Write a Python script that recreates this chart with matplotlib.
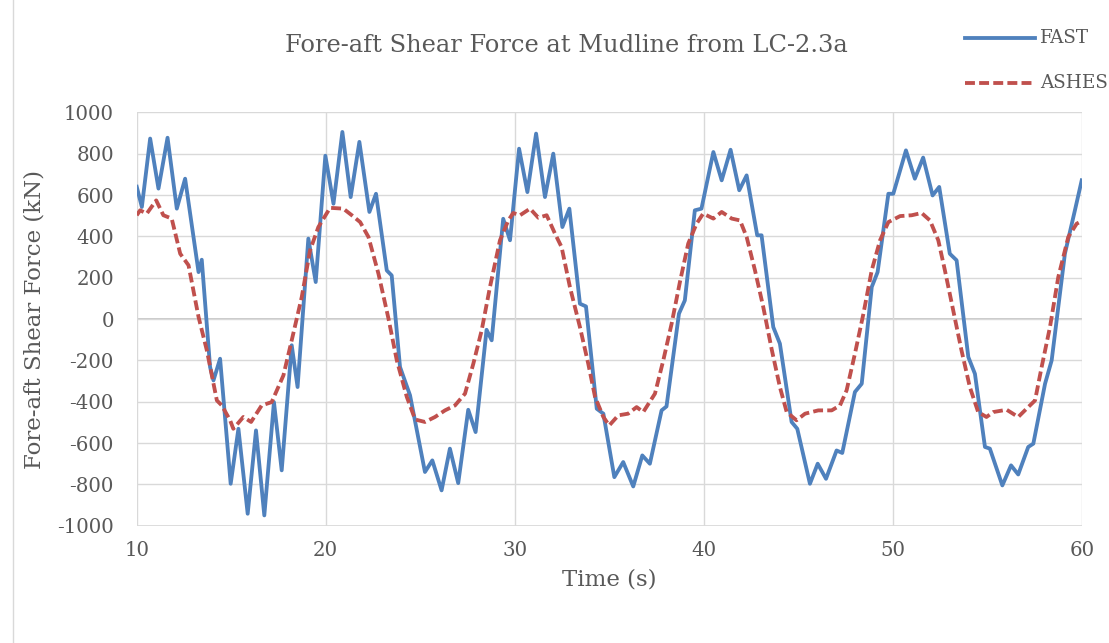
import matplotlib.pyplot as plt
from matplotlib.lines import Line2D

plt.rcParams["axes.unicode_minus"] = False

# FAST time history
fast_t = [10.0, 10.27, 10.71, 11.15, 11.63, 12.12, 12.56, 13.27, 13.44, 13.88, 14.06, 14.41,
          14.97, 15.38, 15.87, 16.31, 16.75, 17.26, 17.67, 18.20, 18.51, 19.08, 19.47, 19.98,
          20.41, 20.88, 21.32, 21.78, 22.31, 22.66, 23.23, 23.49, 23.93, 24.46, 25.25, 25.64,
          26.13, 26.57, 27.01, 27.54, 27.93, 28.51, 28.78, 29.39, 29.75, 30.23, 30.67, 31.13,
          31.60, 32.04, 32.52, 32.89, 33.45, 33.77, 34.34, 34.69, 35.27, 35.74, 36.27, 36.75,
          37.15, 37.77, 38.03, 38.69, 39.00, 39.53, 39.88, 40.51, 40.95, 41.42, 41.88, 42.27,
          42.83, 43.06, 43.68, 44.03, 44.65, 44.95, 45.62, 46.03, 46.47, 47.03, 47.33, 48.00,
          48.36, 48.89, 49.20, 49.77, 50.03, 50.70, 51.17, 51.61, 52.11, 52.46, 53.02, 53.38,
          54.00, 54.35, 54.88, 55.14, 55.80, 56.26, 56.64, 57.17, 57.44, 58.06, 58.41, 59.11,
          59.64, 60.0]
fast_v = [640, 542, 873, 631, 877, 534, 679, 227, 287, -232, -297, -192,
          -797, -531, -942, -539, -950, -402, -732, -127, -329, 389, 179, 790,
          558, 905, 590, 857, 518, 606, 235, 211, -232, -369, -740, -684,
          -829, -627, -794, -439, -547, -52, -103, 485, 381, 824, 614, 897,
          590, 800, 445, 534, 74, 61, -434, -458, -765, -692, -810, -660,
          -700, -442, -423, 26, 90, 526, 534, 808, 671, 819, 623, 695,
          405, 405, -39, -119, -498, -531, -797, -700, -773, -636, -648, -353,
          -313, 155, 227, 606, 606, 816, 679, 781, 598, 639, 316, 284,
          -184, -265, -619, -627, -805, -708, -752, -619, -603, -313, -200, 316,
          526, 671]

# ASHES time history
ashes_t = [10.0, 10.18, 10.53, 11.03, 11.41, 11.85, 12.30, 12.74, 13.27, 13.71, 14.24, 14.50,
           14.94, 15.11, 15.64, 16.05, 16.61, 17.14, 17.76, 18.20, 18.73, 19.17, 19.61, 20.23,
           20.93, 21.38, 21.82, 22.26, 22.79, 23.32, 23.76, 24.29, 24.73, 25.25, 25.78, 26.31,
           26.84, 27.37, 27.81, 28.25, 28.69, 29.22, 29.66, 29.92, 30.28, 30.81, 31.25, 31.69,
           32.13, 32.48, 32.92, 33.45, 33.89, 34.25, 34.69, 35.00, 35.48, 36.00, 36.45, 36.80,
           37.42, 37.86, 38.30, 38.74, 39.18, 39.62, 39.97, 40.51, 40.95, 41.48, 41.92, 42.27,
           42.71, 43.15, 43.59, 44.03, 44.39, 44.91, 45.36, 46.06, 46.77, 47.21, 47.56, 48.00,
           48.45, 48.89, 49.33, 49.77, 50.39, 51.00, 51.53, 51.97, 52.41, 52.76, 53.20, 53.64,
           54.08, 54.52, 54.96, 55.32, 56.03, 56.64, 57.08, 57.53, 57.88, 58.32, 58.76, 59.29,
           59.73, 60.0]
ashes_v = [502, 526, 510, 574, 502, 486, 316, 260, 10, -152, -394, -418,
           -490, -531, -474, -498, -418, -402, -273, -103, 106, 332, 445, 538,
           534, 502, 469, 397, 219, 2, -200, -377, -486, -498, -474, -442,
           -418, -361, -216, -55, 155, 381, 477, 513, 502, 534, 490, 502,
           413, 348, 155, -39, -216, -377, -474, -515, -466, -458, -426, -450,
           -361, -200, -23, 179, 365, 461, 510, 486, 518, 486, 477, 397,
           236, 58, -144, -329, -450, -490, -458, -442, -442, -418, -345, -168,
           26, 236, 381, 469, 498, 502, 513, 477, 381, 236, 42, -152,
           -329, -450, -474, -450, -439, -474, -434, -394, -232, -39, 203, 397,
           461, 474]

x_ticks = [10, 20, 30, 40, 50, 60]
y_ticks = list(range(-1000, 1001, 200))

text_col = "#595959"
font = "DejaVu Serif"
blue = "#4F81BD"
red = "#C0504D"
lw = 2.75

fig = plt.figure(figsize=(11.09, 6.43), dpi=100)
ax = fig.add_axes([0.1233, 0.1824, 0.8521, 0.6429])

ax.plot(fast_t, fast_v, color=blue, lw=lw, solid_joinstyle="round", zorder=3)
ax.plot(ashes_t, ashes_v, color=red, lw=lw, dashes=(2.6, 1.1),
        dash_capstyle="butt", zorder=4)

ax.set_xlim(10, 60)
ax.set_ylim(-1000, 1000)
ax.set_xticks(x_ticks)
ax.set_yticks(y_ticks)
ax.grid(True, color="#D9D9D9", lw=1.0)
ax.axhline(0, color="#BFBFBF", lw=1.2, zorder=1)
for s in ax.spines.values():
    s.set_visible(False)
ax.axvline(10, color="#BFBFBF", lw=1.2, zorder=1)
ax.axhline(-1000, color="#D9D9D9", lw=1.2, zorder=1)
ax.tick_params(axis="y", length=0, labelsize=14.2, labelcolor=text_col, pad=16.5)
ax.tick_params(axis="x", length=0, labelsize=14.2, labelcolor=text_col, pad=11)
for lab in ax.get_xticklabels() + ax.get_yticklabels():
    lab.set_fontfamily(font)

ax.set_xlabel("Time (s)", fontsize=16.5, color=text_col, family=font, labelpad=6)
ax.set_ylabel("Fore-aft Shear Force (kN)", fontsize=16.5, color=text_col, family=font,
              labelpad=8)

fig.text(566 / 1109, 1 - 46 / 643, "Fore-aft Shear Force at Mudline from LC-2.3a",
         ha="center", va="center", fontsize=17.4, color=text_col, family=font)

# legend drawn to the upper right, partly outside the plot
fig.add_artist(Line2D([965 / 1109, 1035 / 1109], [1 - 38 / 643] * 2, color=blue, lw=lw))
fig.add_artist(Line2D([965 / 1109, 1035 / 1109], [1 - 83 / 643] * 2, color=red, lw=lw,
                      dashes=(2.6, 1.1)))
fig.text(1040 / 1109, 1 - 38 / 643, "FAST", ha="left", va="center", fontsize=13.2,
         color=text_col, family=font)
fig.text(1040 / 1109, 1 - 83 / 643, "ASHES", ha="left", va="center", fontsize=13.2,
         color=text_col, family=font)

fig.add_artist(Line2D([13 / 1109] * 2, [0, 1], color="#D9D9D9", lw=1.0))

fig.savefig("out.png", dpi=100)
